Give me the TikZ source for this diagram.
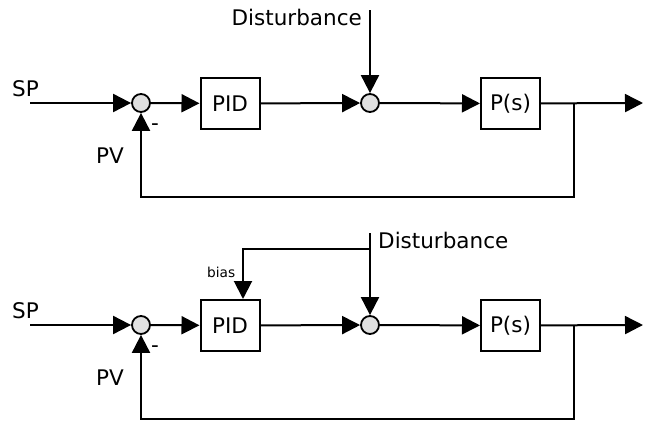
\documentclass[tikz,border=0pt]{standalone}
\usepackage{fontspec}
\setmainfont{DejaVu Sans}
\usetikzlibrary{arrows.meta}
\definecolor{sumfill}{HTML}{E0E0E0}
\tikzset{
  lbl/.style={inner sep=0pt, font=\fontsize{21.5}{26}\selectfont},
  small/.style={inner sep=0pt, font=\fontsize{13.7}{16}\selectfont},
  blk/.style={draw, line width=2pt, minimum width=59pt, minimum height=51pt, inner sep=0pt, font=\fontsize{21.5}{26}\selectfont},
  sumj/.style={draw, circle, fill=sumfill, line width=1.8pt, minimum size=18pt, inner sep=0pt},
  arr/.style={line width=2pt, -{Triangle[length=18pt,width=18pt]}},
  ln/.style={line width=2pt}
}
\begin{document}
\begin{tikzpicture}[x=1pt,y=-1pt]
\useasboundingbox (0,0) rectangle (646,423);
% ---------- top diagram ----------
\node[sumj] (s1) at (141,103) {};
\node[blk] (pid1) at (230,103.5) {PID};
\node[sumj] (s2) at (370,103) {};
\node[blk] (ps1) at (510.5,103.5) {P(s)};
\coordinate (sp1) at (30,103);
\coordinate (d1) at (370,10);
\coordinate (br1) at (574,103);
\coordinate (out1) at (643,103);
\draw[arr] (sp1) -- (s1);
\draw[arr] (s1) -- (pid1);
\draw[arr] (pid1) -- (s2);
\draw[arr] (d1) -- (s2);
\draw[arr] (s2) -- (ps1);
\draw[arr] (ps1) -- (out1);
\draw[arr] (br1) -- ++(0,94) -| (s1);
\node[lbl, anchor=base west] (tsp1) at (12,96) {SP};
\node[lbl, anchor=base west] (tpv1) at (96,163) {PV};
\node[lbl, anchor=base east] (td1) at (362,25) {Disturbance};
\node[lbl, anchor=base west] (tm1) at (151,130) {-};
% ---------- bottom diagram ----------
\node[sumj] (s3) at (141,325) {};
\node[blk] (pid2) at (230,325.5) {PID};
\node[sumj] (s4) at (370,325) {};
\node[blk] (ps2) at (510.5,325.5) {P(s)};
\coordinate (sp2) at (30,325);
\coordinate (d2) at (370,233);
\coordinate (j2) at (370,249);
\coordinate (br2) at (574,325);
\coordinate (out2) at (643,325);
\draw[arr] (sp2) -- (s3);
\draw[arr] (s3) -- (pid2);
\draw[arr] (pid2) -- (s4);
\draw[arr] (d2) -- (s4);
\draw[arr] (j2) -| ([xshift=13pt]pid2.north);
\draw[arr] (s4) -- (ps2);
\draw[arr] (ps2) -- (out2);
\draw[arr] (br2) -- ++(0,94) -| (s3);
\node[lbl, anchor=base west] (tsp2) at (12,318) {SP};
\node[lbl, anchor=base west] (tpv2) at (96,385) {PV};
\node[lbl, anchor=base west] (td2) at (378,248) {Disturbance};
\node[small, anchor=base west] (tb2) at (207,277) {bias};
\node[lbl, anchor=base west] (tm2) at (151,352) {-};
\end{tikzpicture}
\end{document}
